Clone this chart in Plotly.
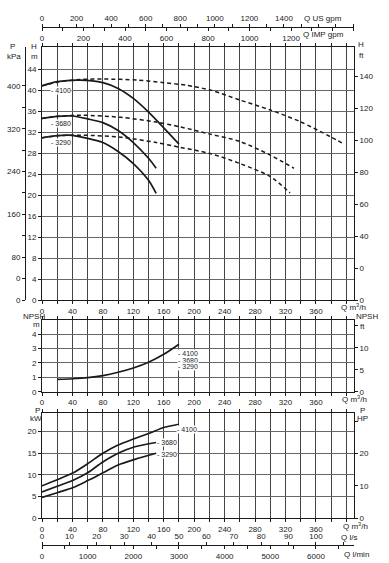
import plotly.graph_objects as go

W, H = 389, 563

# ---------------- data ----------------
q_h_4100 = [0, 20, 50, 80, 100, 120, 140, 160, 180]
h_4100 = [40.8, 41.6, 41.9, 41.4, 40.3, 38.4, 35.8, 32.8, 29.7]
q_h_3680 = [0, 20, 40, 60, 80, 100, 120, 140, 150]
h_3680 = [34.6, 35.0, 35.05, 34.5, 33.8, 32.3, 30.0, 27.0, 25.1]
q_h_3290 = [0, 20, 35, 60, 80, 100, 120, 140, 150]
h_3290 = [30.9, 31.3, 31.4, 30.8, 30.0, 28.3, 26.0, 22.8, 20.3]

q_d_4100 = [0, 20, 50, 80, 126, 160, 190, 221, 260, 300, 339, 379, 397]
h_d_4100 = [40.8, 41.5, 42.0, 42.1, 41.9, 41.4, 40.9, 40.0, 38.1, 36.2, 34.0, 31.1, 29.7]
q_d_3680 = [0, 20, 52, 104, 150, 181, 221, 260, 300, 331]
h_d_3680 = [34.6, 35.0, 35.2, 34.8, 33.9, 33.0, 31.6, 30.2, 27.6, 25.1]
q_d_3290 = [0, 20, 52, 104, 150, 181, 221, 260, 300, 326]
h_d_3290 = [30.9, 31.3, 31.4, 31.0, 30.0, 29.1, 27.9, 26.0, 23.5, 20.4]

q_npsh = [20, 40, 60, 80, 100, 120, 140, 160, 180]
npsh = [0.85, 0.9, 0.98, 1.12, 1.35, 1.65, 2.05, 2.6, 3.3]

q_p_4100 = [0, 20, 41, 60, 80, 100, 122, 142, 161, 180]
p_4100 = [7.5, 8.9, 10.5, 12.6, 15.0, 16.9, 18.4, 19.7, 21.0, 21.7]
q_p_3680 = [0, 20, 41, 60, 80, 100, 122, 150]
p_3680 = [6.1, 7.4, 8.8, 10.5, 13.0, 15.0, 16.5, 17.5]
q_p_3290 = [0, 20, 41, 60, 80, 100, 122, 150]
p_3290 = [4.8, 5.9, 7.1, 8.7, 10.5, 12.3, 13.6, 15.0]

labels = ["4100", "3680", "3290"]
q_ticks = [0, 40, 80, 120, 160, 200, 240, 280, 320, 360, 400]
q_ticktext = ["0", "40", "80", "120", "160", "200", "240", "280", "320", "360", " "]
h_ticks = [0, 4, 8, 12, 16, 20, 24, 28, 32, 36, 40, 44]
kpa_ticks = [0, 40, 80, 160, 240, 320, 400]
kpa_text = ["0", "0", "80", "160", "240", "320", "400"]
kpa_minor = [120, 200, 280, 360]
hft_ticks = [0, 20, 40, 60, 80, 100, 120, 140]
hft_text = ["0", "0", "40", "60", "80", "100", "120", "140"]
npsh_ticks = [0, 1, 2, 3, 4]
npshft_ticks = [0, 5, 10, 15]
npshft_text = ["0", "5", "10", " "]
kw_ticks = [0, 5, 10, 15, 20]
hp_ticks = [0, 10, 20, 30]
hp_text = ["0", "10", "20", " "]

# ---------------- geometry ----------------
def py(p):
    return 1 - p / H

def px(p):
    return p / W

XMAX = 410.0
XDOM = [px(42), px(354)]
TOP_DOM = [py(300), py(47)]
MID_DOM = [py(391.7), py(320)]
BOT_DOM = [py(518.3), py(413)]
H_MAX = 48.2
N_MAX = 4.98
P_MAX = 24.3

FONT = dict(family="Liberation Sans, Arial, sans-serif", size=8, color="#222")
INK = "#1a1a1a"
GRIDX = "#444444"
GRIDY = "#666666"

fig = go.Figure()

def line(x, y, xa, ya, dash=None, width=1.7):
    fig.add_trace(go.Scatter(x=x, y=y, xaxis=xa, yaxis=ya, mode="lines",
                             line=dict(color=INK, width=width, dash=dash, shape="spline", smoothing=0.8),
                             showlegend=False, hoverinfo="skip"))

def dummy(xa, ya):
    fig.add_trace(go.Scatter(x=[None], y=[None], xaxis=xa, yaxis=ya, mode="markers",
                             showlegend=False, hoverinfo="skip"))

# top panel
DASH = "4px,3px"
line(q_d_4100, h_d_4100, "x", "y", DASH, 1.5)
line(q_d_3680, h_d_3680, "x", "y", DASH, 1.5)
line(q_d_3290, h_d_3290, "x", "y", DASH, 1.5)
line(q_h_4100, h_4100, "x", "y")
line(q_h_3680, h_3680, "x", "y")
line(q_h_3290, h_3290, "x", "y")
# NPSH
line(q_npsh, npsh, "x2", "y4")
# power
line(q_p_4100, p_4100, "x3", "y6")
line(q_p_3680, p_3680, "x3", "y6")
line(q_p_3290, p_3290, "x3", "y6")

for xa, ya in [("x", "y2"), ("x", "y3"), ("x4", "y"), ("x5", "y"),
               ("x2", "y5"), ("x3", "y7"), ("x6", "y6"), ("x7", "y6")]:
    dummy(xa, ya)

def qaxis(anchor):
    return dict(domain=XDOM, anchor=anchor, range=[0, XMAX], tickmode="array",
                tickvals=q_ticks, ticktext=q_ticktext, showgrid=True, gridcolor=GRIDX,
                gridwidth=1, zeroline=False, showline=True, linecolor=INK, linewidth=1,
                mirror="ticks", ticks="outside", ticklen=3, tickcolor=INK,
                tickfont=FONT, fixedrange=True, automargin=False,
                minor=dict(tickmode="linear", tick0=0, dtick=20, showgrid=True,
                           gridcolor=GRIDX, gridwidth=1, ticks="outside", ticklen=3,
                           tickcolor=INK))

def yaxis_main(dom, anchor, rng, tv):
    return dict(domain=dom, anchor=anchor, range=rng, tickmode="array", tickvals=tv,
                showgrid=True, gridcolor=GRIDY, gridwidth=1, zeroline=False,
                showline=True, linecolor=INK, linewidth=1, mirror=True,
                ticks="outside", ticklen=3, tickcolor=INK, tickfont=FONT,
                fixedrange=True, automargin=False)

def yaxis_over(over, side, rng, tv, tt, anchor=None, position=None, showline=False, minor=None):
    d = dict(overlaying=over, side=side, range=rng, tickmode="array", tickvals=tv,
             ticktext=tt, showgrid=False, zeroline=False, showline=showline,
             linecolor=INK, linewidth=1, ticks="outside", ticklen=3, tickcolor=INK,
             tickfont=FONT, fixedrange=True, automargin=False)
    if anchor:
        d["anchor"] = anchor
    if position is not None:
        d["position"] = position
    if minor:
        d["minor"] = minor
    return d

def xaxis_over(over, side, pos, rng, dtick_lab, tick_minor, last_lab):
    vals = []
    v = 0
    while v <= last_lab + 1e-9:
        vals.append(v)
        v += dtick_lab
    return dict(overlaying=over, side=side, anchor="free", position=pos, range=rng,
                tickmode="array", tickvals=vals, showgrid=False, zeroline=False,
                showline=True, linecolor=INK, linewidth=1, ticks="outside",
                ticklen=3, tickcolor=INK, tickfont=FONT, fixedrange=True,
                automargin=False,
                minor=dict(tickmode="linear", tick0=0, dtick=tick_minor,
                           ticks="outside", ticklen=3, tickcolor=INK))

layout = dict(
    width=W, height=H, autosize=False, template="none",
    margin=dict(l=0, r=0, t=0, b=0, pad=0),
    paper_bgcolor="white", plot_bgcolor="white", showlegend=False,
    font=FONT,
    xaxis=qaxis("y"),
    xaxis2=qaxis("y4"),
    xaxis3=qaxis("y6"),
    xaxis4=xaxis_over("x", "top", py(27), [0, XMAX / 0.22712], 200, 100, 1400),
    xaxis5=xaxis_over("x", "bottom", py(27), [0, XMAX / 0.27277], 200, 100, 1200),
    xaxis6=xaxis_over("x3", "top", py(545), [0, XMAX / 3.6], 10, 10, 100),
    xaxis7=xaxis_over("x3", "bottom", py(545), [0, XMAX / 0.06], 1000, 500, 6000),
    yaxis=yaxis_main(TOP_DOM, "x", [0, H_MAX], h_ticks),
    yaxis2=yaxis_over("y", "left", [0, H_MAX * 9.81], kpa_ticks, kpa_text,
                      anchor="free", position=px(25), showline=True,
                      minor=dict(tickmode="array", tickvals=kpa_minor, ticks="outside",
                                 ticklen=3, tickcolor=INK)),
    yaxis3=yaxis_over("y", "right", [0, H_MAX / 0.3048], hft_ticks, hft_text, anchor="x"),
    yaxis4=yaxis_main(MID_DOM, "x2", [0, N_MAX], npsh_ticks),
    yaxis5=yaxis_over("y4", "right", [0, N_MAX / 0.3048], npshft_ticks, npshft_text, anchor="x2"),
    yaxis6=yaxis_main(BOT_DOM, "x3", [0, P_MAX], kw_ticks),
    yaxis7=yaxis_over("y6", "right", [0, P_MAX / 0.7457], hp_ticks, hp_text, anchor="x3"),
)
fig.update_layout(**layout)

ann = []

def ptext(x, y, text, xanchor="center", size=8):
    ann.append(dict(xref="paper", yref="paper", x=px(x), y=py(y), text=text,
                    showarrow=False, xanchor=xanchor, yanchor="middle",
                    font=dict(family=FONT["family"], size=size, color="#222")))

# axis titles
ptext(13, 46, "P"); ptext(14, 56, "kPa")
ptext(34, 46, "H"); ptext(34, 56, "m")
ptext(361, 45, "H"); ptext(361, 55, "ft")
ptext(323, 19, "Q US gpm"); ptext(323, 35, "Q IMP gpm")
ptext(353, 307, "Q m<sup>3</sup>/h")
ptext(34, 316, "NPSH"); ptext(36, 324, "m")
ptext(367, 316, "NPSH"); ptext(362, 326, "ft")
ptext(354, 399, "Q m<sup>3</sup>/h")
ptext(37, 410, "P"); ptext(36, 418, "kW")
ptext(362, 410, "P"); ptext(362, 418, "HP")
ptext(355, 526, "Q m<sup>3</sup>/h")
ptext(349, 537, "Q l/s")
ptext(356, 554, "Q l/min")

def dtext(xr, yr, x, y, text):
    ann.append(dict(xref=xr, yref=yr, x=x, y=y, text=text, showarrow=False,
                    xanchor="left", yanchor="middle", bgcolor="white", borderpad=0,
                    font=dict(family=FONT["family"], size=7, color="#222")))

# curve labels, top panel
for lab, hy in zip(labels, [40.0, 33.7, 30.0]):
    dtext("x", "y", 11, hy, "- " + lab)
# NPSH
for lab, ny in zip(labels, [2.62, 2.2, 1.74]):
    dtext("x2", "y4", 177, ny, "- " + lab)
# power
dtext("x3", "y6", 176, 20.5, "- 4100")
dtext("x3", "y6", 150, 17.4, "- 3680")
dtext("x3", "y6", 150, 14.8, "- 3290")

fig.update_layout(annotations=ann)
fig.write_html("out.html", config={"displayModeBar": False},
               post_script="document.body.style.margin='0px';document.body.style.overflow='hidden';")
